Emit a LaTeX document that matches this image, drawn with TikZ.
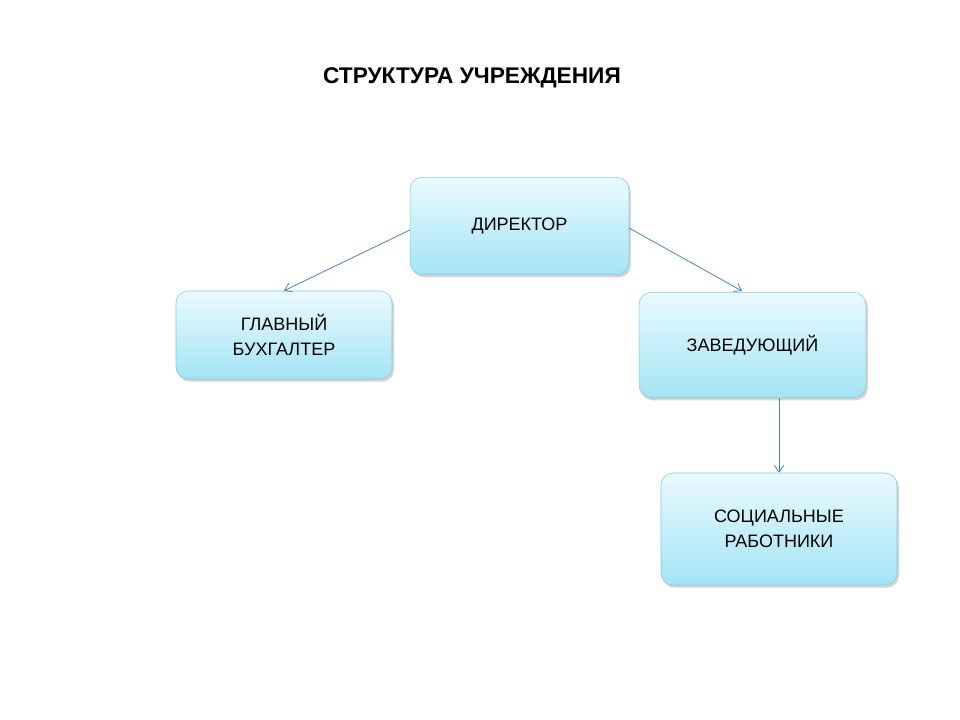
\documentclass[tikz,border=0pt]{standalone}
\usepackage{fontspec}
\setmainfont{Liberation Sans}
\usetikzlibrary{shadows,arrows.meta}
\definecolor{boxtop}{HTML}{EAFAFE}
\definecolor{boxbot}{HTML}{A3E4F5}
\definecolor{boxline}{HTML}{86C9DC}
\definecolor{linkblue}{HTML}{4F81BD}
\begin{document}
\begin{tikzpicture}[x=0.75pt,y=-0.75pt,
    unit/.style={draw=boxline, rounded corners=9pt, top color=boxtop, bottom color=boxbot,
        drop shadow={shadow xshift=1.5pt, shadow yshift=-2pt, opacity=0.35},
        align=center, font=\fontsize{13.5}{19}\selectfont, inner sep=0pt},
    link/.style={draw=linkblue, line width=0.6pt, -{Straight Barb[length=5pt,width=7pt]}}]
        \useasboundingbox (0,0) rectangle (960,720);
        \node[font=\bfseries\fontsize{17}{20}\selectfont] (title) at (472,78) {СТРУКТУРА УЧРЕЖДЕНИЯ};
        \node[unit, minimum width=164pt, minimum height=73pt] (director) at (519.5,226) {ДИРЕКТОР};
        \node[unit, minimum width=162pt, minimum height=66pt] (accountant) at (284,335) {ГЛАВНЫЙ\\БУХГАЛТЕР};
        \node[unit, minimum width=170pt, minimum height=79pt] (manager) at (752.5,345) {ЗАВЕДУЮЩИЙ};
        \node[unit, minimum width=177pt, minimum height=84pt] (workers) at (779,529) {СОЦИАЛЬНЫЕ\\РАБОТНИКИ};
        \draw[link] (director.west |- 0,230) -- (accountant.north);
        \draw[link] (director.east |- 0,228) -- (742,291);
        \draw[link] (workers.north |- manager.south) -- (workers.north);
\end{tikzpicture}
\end{document}
